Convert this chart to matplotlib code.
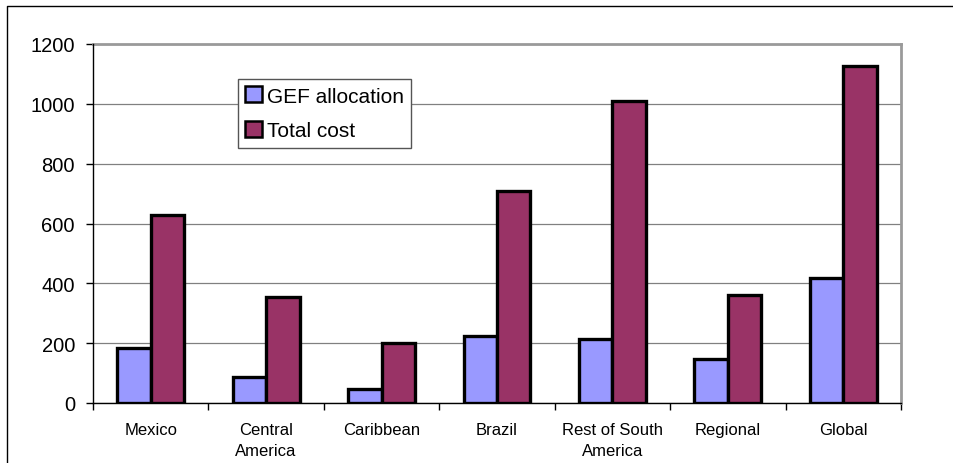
import matplotlib
matplotlib.use("Agg")
import matplotlib.pyplot as plt
import numpy as np
from matplotlib.lines import Line2D

# Regions and cost figures
categories = ["Mexico", "Central\nAmerica", "Caribbean", "Brazil",
              "Rest of South\nAmerica", "Regional", "Global"]
gef_allocation = [184, 86, 47, 224, 214, 147, 418]
total_cost = [629, 355, 200, 707, 1010, 361, 1125]
y_ticks = [0, 200, 400, 600, 800, 1000, 1200]

plt.rcParams["font.family"] = ["Liberation Sans", "DejaVu Sans"]

fig = plt.figure(figsize=(9.54, 4.64), dpi=100)
ax = fig.add_axes([93 / 954, 1 - 404 / 464, 808 / 954, 359 / 464])

x = np.arange(len(categories))
w = 0.289
ax.bar(x - w / 2, gef_allocation, width=w, color="#9999FF", edgecolor="black",
       linewidth=2.4, label="GEF allocation", zorder=3)
ax.bar(x + w / 2, total_cost, width=w, color="#993366", edgecolor="black",
       linewidth=2.4, label="Total cost", zorder=3)

ax.set_xlim(-0.5, len(categories) - 0.5)
ax.set_ylim(0, 1200)
ax.set_yticks(y_ticks)
ax.set_yticklabels([str(v) for v in y_ticks], fontsize=14.5)
ax.yaxis.grid(True, color="#808080", linewidth=0.9, zorder=0)
ax.tick_params(axis="y", length=5, width=1, pad=8, color="black")

ax.set_xticks(x)
ax.set_xticklabels(categories, fontsize=12, linespacing=1.45)
ax.tick_params(axis="x", which="major", length=0, pad=14)
ax.set_xticks(np.arange(-0.5, len(categories)), minor=True)
ax.tick_params(axis="x", which="minor", length=5, width=1, color="black")

for side in ("left", "bottom"):
    ax.spines[side].set_color("black")
    ax.spines[side].set_linewidth(1.0)
    ax.spines[side].set_zorder(4)
for side in ("top", "right"):
    ax.spines[side].set_color("#9a9a9a")
    ax.spines[side].set_linewidth(2.0)

leg = ax.legend(loc="upper left", bbox_to_anchor=(0.1795, 0.9025),
                borderaxespad=0, fancybox=False, framealpha=1,
                edgecolor="#555555", fontsize=15, handlelength=0.8,
                handleheight=0.8, handletextpad=0.25, labelspacing=0.75,
                borderpad=0.35)
leg.get_frame().set_linewidth(1.0)
for h in leg.legend_handles:
    h.set_linewidth(1.8)

# Chart frame along the top and left edges
fig.add_artist(Line2D([7 / 954, 7 / 954, 1.0], [0.0, 1 - 7 / 464, 1 - 7 / 464],
                      transform=fig.transFigure, color="black", linewidth=1.0))

fig.savefig("out.png", dpi=100)
